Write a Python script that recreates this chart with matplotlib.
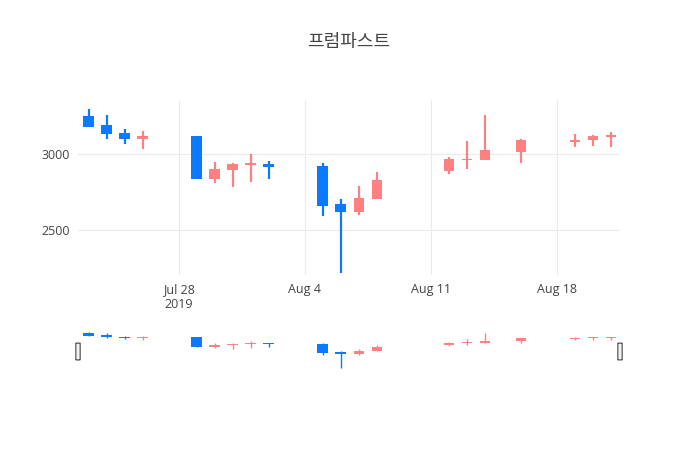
import numpy as np
import pandas as pd
import matplotlib
matplotlib.use('Agg')
import matplotlib.pyplot as plt
import matplotlib.dates as mdates
from matplotlib.patches import FancyBboxPatch

plt.rcParams['font.family'] = ['Open Sans', 'Noto Sans CJK KR', 'DejaVu Sans']

dates = pd.to_datetime([
    '2019-07-23', '2019-07-24', '2019-07-25', '2019-07-26',
    '2019-07-29', '2019-07-30', '2019-07-31', '2019-08-01', '2019-08-02',
    '2019-08-05', '2019-08-06', '2019-08-07', '2019-08-08',
    '2019-08-12', '2019-08-13', '2019-08-14', '2019-08-16',
    '2019-08-19', '2019-08-20', '2019-08-21'])
opens  = [3252, 3189, 3138, 3099, 3118, 2833, 2895, 2926, 2936, 2923, 2671, 2618, 2702,
          2891, 2961, 2963, 3015, 3081, 3090, 3110]
highs  = [3294, 3257, 3164, 3151, 3118, 2945, 2939, 2998, 2956, 2939, 2706, 2789, 2880,
          2982, 3086, 3257, 3096, 3129, 3123, 3143]
lows   = [3176, 3099, 3066, 3033, 2833, 2807, 2781, 2814, 2833, 2592, 2215, 2596, 2702,
          2868, 2901, 2963, 2939, 3044, 3053, 3048]
closes = [3176, 3130, 3099, 3118, 2833, 2903, 2934, 2939, 2912, 2660, 2618, 2711, 2829,
          2965, 2969, 3026, 3090, 3094, 3118, 3128]

UP = '#FF8080'
DOWN = '#0A7BFF'

fig = plt.figure(figsize=(7, 4.5), dpi=100)
ax = fig.add_axes([78/700, 1-275/450, 542/700, 175/450])
sl = fig.add_axes([78/700, 1-370/450, 542/700, 40/450])

x = mdates.date2num(dates)
o = np.array(opens); c = np.array(closes)
cols = [UP if cc >= oo else DOWN for oo, cc in zip(o, c)]
lo_b = np.minimum(o, c)


def candles(a, wick, minh):
    h = np.maximum(np.abs(c - o), minh)
    a.vlines(x, lows, highs, colors=cols, lw=wick, zorder=2)
    a.bar(x, h, bottom=lo_b - (h - np.abs(c - o)) / 2, width=0.6, color=cols, lw=0, zorder=3)

candles(ax, 1.6, 6)
candles(sl, 1.0, 30)

xmin = mdates.date2num(pd.Timestamp('2019-07-22')) + 0.4
xmax = mdates.date2num(pd.Timestamp('2019-08-21')) + 0.5
for a in (ax, sl):
    a.set_xlim(xmin, xmax)
    for s in a.spines.values():
        s.set_visible(False)

ax.set_ylim(2204, 3355)
ax.set_yticks([2500, 3000])
ax.set_yticklabels(['2500', '3000'])
ticks = pd.to_datetime(['2019-07-28', '2019-08-04', '2019-08-11', '2019-08-18'])
ax.set_xticks(mdates.date2num(ticks))
ax.set_xticklabels(['Jul 28\n2019', 'Aug 4', 'Aug 11', 'Aug 18'])
ax.grid(True, color='#ebebeb', lw=0.8)
ax.set_axisbelow(True)
ax.tick_params(length=0, colors='#444444', labelsize=9, pad=6)

sl.set_ylim(2150, 3340)
sl.set_xticks([]); sl.set_yticks([])
for xe in (xmin, xmax):
    sl.add_patch(FancyBboxPatch((xe - 0.12, 2450), 0.24, 500,
                                boxstyle='round,pad=0,rounding_size=0.08',
                                fc='#f2f2f2', ec='#444444', lw=0.8,
                                clip_on=False, zorder=5))

fig.text(349/700, 1-42/450, '프럼파스트', ha='center', va='center',
         fontsize=13, color='#444444', family=['Noto Sans CJK KR', 'DejaVu Sans'])

fig.savefig('out.png', dpi=100)
